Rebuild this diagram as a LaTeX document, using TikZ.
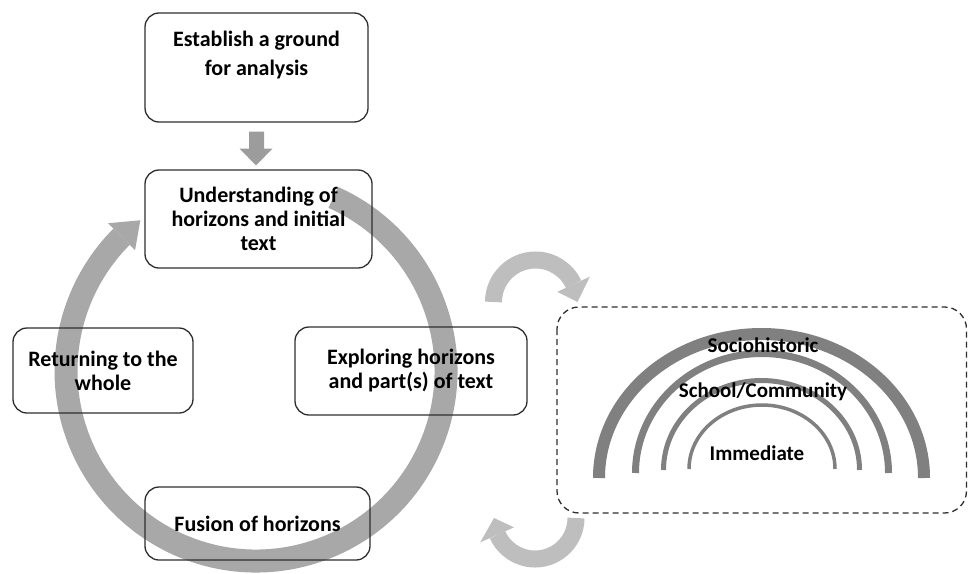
\documentclass[tikz,border=0pt]{standalone}
\usepackage{fontspec}
\setmainfont{Carlito}
\usetikzlibrary{calc,backgrounds}
\definecolor{ringc}{HTML}{A8A8A8}
\definecolor{downc}{HTML}{9C9C9C}
\definecolor{curvc}{HTML}{BEBEBE}
\definecolor{arcc}{HTML}{808080}
\definecolor{edgec}{HTML}{2E2E2E}
\begin{document}
\begin{tikzpicture}[x=1pt,y=-1pt,
  box/.style={draw=edgec, line width=1.3pt, rounded corners=14pt, align=center, inner sep=0pt,
    font=\bfseries\fontsize{22}{24}\selectfont},
  dashbox/.style={draw=edgec, line width=1.3pt, dash pattern=on 6pt off 4pt, rounded corners=22pt},
  hlabel/.style={font=\bfseries\fontsize{21}{24}\selectfont, inner sep=0pt},
  ringline/.style={draw=ringc, line width=23pt},
  curvline/.style={draw=curvc, line width=17pt},
  hzarc/.style={draw=arcc}
]
\useasboundingbox (0,0) rectangle (968,573);

% boxes
\node[box, minimum width=223pt, minimum height=109pt, font=\bfseries\fontsize{22}{29}\selectfont] (est) at (256.5,67.5) {Establish a ground\\for analysis\\\mbox{}};
\node[box, minimum width=227pt, minimum height=98pt] (und) at (258.5,219) {Understanding of\\horizons and initial\\text};
\node[box, minimum width=180pt, minimum height=85pt] (ret) at (103,370.5) {Returning to the\\whole};
\node[box, minimum width=232pt, minimum height=88pt] (exp) at (411,371) {Exploring horizons\\and part(s) of text};
\node[box, minimum width=225pt, minimum height=73pt] (fus) at (257.5,523.5) {Fusion of horizons};

% down block arrow from est to und
\fill[downc] ($(est.south)+(-7.5,9)$) -- ($(est.south)+(7.5,9)$) -- ($(est.south)+(7.5,26)$)
  -- ($(est.south)+(16,26)$) -- ($(und.north)+(-2.5,-4)$) -- ($(est.south)+(-17,26)$)
  -- ($(est.south)+(-7.5,26)$) -- cycle;

% big cycle ring
\coordinate (C) at (256,371);
\begin{scope}[on background layer]
  \draw[ringline] ($(C)+(-66:190)$) arc[start angle=-66, end angle=225, radius=190];
  \fill[ringc] ($(C)+(225:171)$) -- ($(C)+(225:209)$) -- ($(C)+(232.5:190)$) -- cycle;
\end{scope}

% dashed frame with horizons
\draw[dashbox] (557,307) rectangle (966.5,513);
\draw[hzarc, line width=12pt] (599,478) arc[start angle=180, end angle=360, x radius=162.5, y radius=144];
\draw[hzarc, line width=7pt] (635.5,473) arc[start angle=180, end angle=360, x radius=126.5, y radius=119.5];
\draw[hzarc, line width=5pt] (663.5,470) arc[start angle=180, end angle=360, x radius=98, y radius=89.5];
\draw[hzarc, line width=3.5pt] (689,469) arc[start angle=180, end angle=360, x radius=73, y radius=64];
\node[hlabel] (soc) at (763,345) {Sociohistoric};
\node[hlabel] (sch) at (763,392) {School/Community};
\node[hlabel] (imm) at (757,453) {Immediate};

% curved arrows
\coordinate (T) at (535.5,302);
\draw[curvline] ($(T)+(180:42)$) arc[start angle=180, end angle=335, radius=42];
\fill[curvc] ($(T)+(335:24)$) -- ($(T)+(335:60)$) -- ($(T)+(360:42)$) -- cycle;
\coordinate (B) at (535,518);
\draw[curvline] ($(B)+(0:41)$) arc[start angle=0, end angle=156, radius=41];
\fill[curvc] ($(B)+(156:23)$) -- ($(B)+(156:60)$) -- ($(B)+(180:41)$) -- cycle;
\end{tikzpicture}
\end{document}
